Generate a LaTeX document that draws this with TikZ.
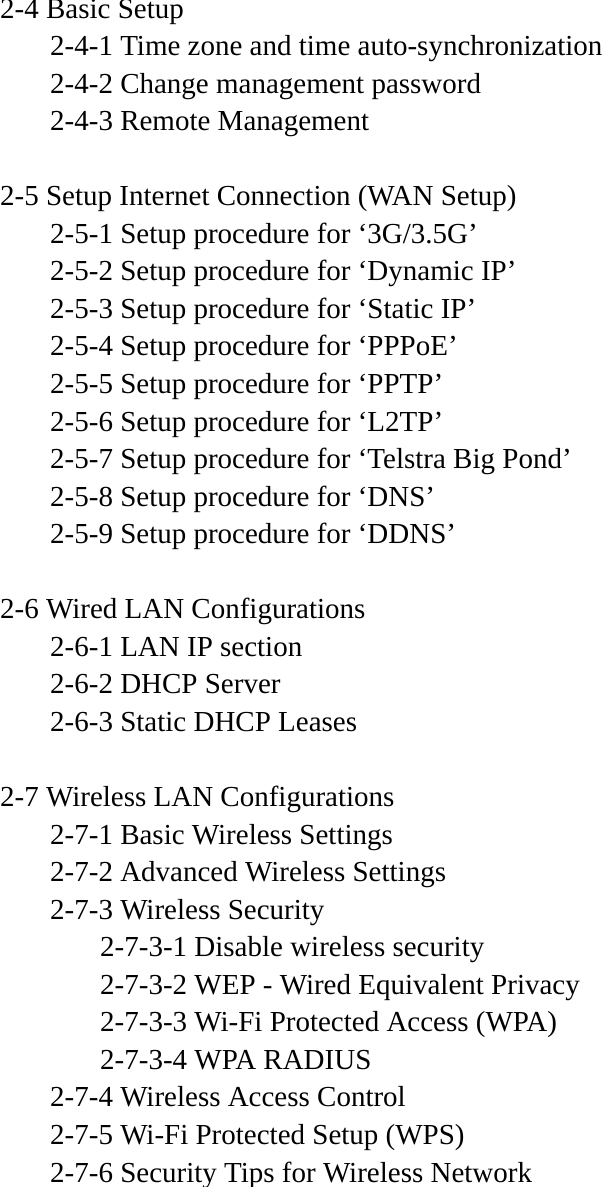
\documentclass[tikz,border=0pt]{standalone}
\usepackage{fontspec}
\setmainfont{Liberation Serif}
\begin{document}
\begin{tikzpicture}[x=1pt,y=-1pt,
  ln/.style={anchor=base west,inner sep=0pt,font=\fontsize{29}{32}\selectfont}]
\useasboundingbox (0,0) rectangle (603,1187);
\def\L#1#2#3#4{\node[ln] (#1) at (#2,{18+37.55*#3}) {#4};}
\L{a0}{0}{0}{2-4 Basic Setup}
\L{a1}{50}{1}{2-4-1 Time zone and time auto-synchronization}
\L{a2}{50}{2}{2-4-2 Change management password}
\L{a3}{50}{3}{2-4-3 Remote Management}
\L{b0}{0}{5}{2-5 Setup Internet Connection (WAN Setup)}
\L{b1}{50}{6}{2-5-1 Setup procedure for ‘3G/3.5G’}
\L{b2}{50}{7}{2-5-2 Setup procedure for ‘Dynamic IP’}
\L{b3}{50}{8}{2-5-3 Setup procedure for ‘Static IP’}
\L{b4}{50}{9}{2-5-4 Setup procedure for ‘PPPoE’}
\L{b5}{50}{10}{2-5-5 Setup procedure for ‘PPTP’}
\L{b6}{50}{11}{2-5-6 Setup procedure for ‘L2TP’}
\L{b7}{50}{12}{2-5-7 Setup procedure for ‘Telstra Big Pond’}
\L{b8}{50}{13}{2-5-8 Setup procedure for ‘DNS’}
\L{b9}{50}{14}{2-5-9 Setup procedure for ‘DDNS’}
\L{c0}{0}{16}{2-6 Wired LAN Configurations}
\L{c1}{50}{17}{2-6-1 LAN IP section}
\L{c2}{50}{18}{2-6-2 DHCP Server}
\L{c3}{50}{19}{2-6-3 Static DHCP Leases}
\L{d0}{0}{21}{2-7 Wireless LAN Configurations}
\L{d1}{50}{22}{2-7-1 Basic Wireless Settings}
\L{d2}{50}{23}{2-7-2 Advanced Wireless Settings}
\L{d3}{50}{24}{2-7-3 Wireless Security}
\L{d4}{100}{25}{2-7-3-1 Disable wireless security}
\L{d5}{100}{26}{2-7-3-2 WEP - Wired Equivalent Privacy}
\L{d6}{100}{27}{2-7-3-3 Wi-Fi Protected Access (WPA)}
\L{d7}{100}{28}{2-7-3-4 WPA RADIUS}
\L{d8}{50}{29}{2-7-4 Wireless Access Control}
\L{d9}{50}{30}{2-7-5 Wi-Fi Protected Setup (WPS)}
\L{d10}{50}{31}{2-7-6 Security Tips for Wireless Network}
\end{tikzpicture}
\end{document}
